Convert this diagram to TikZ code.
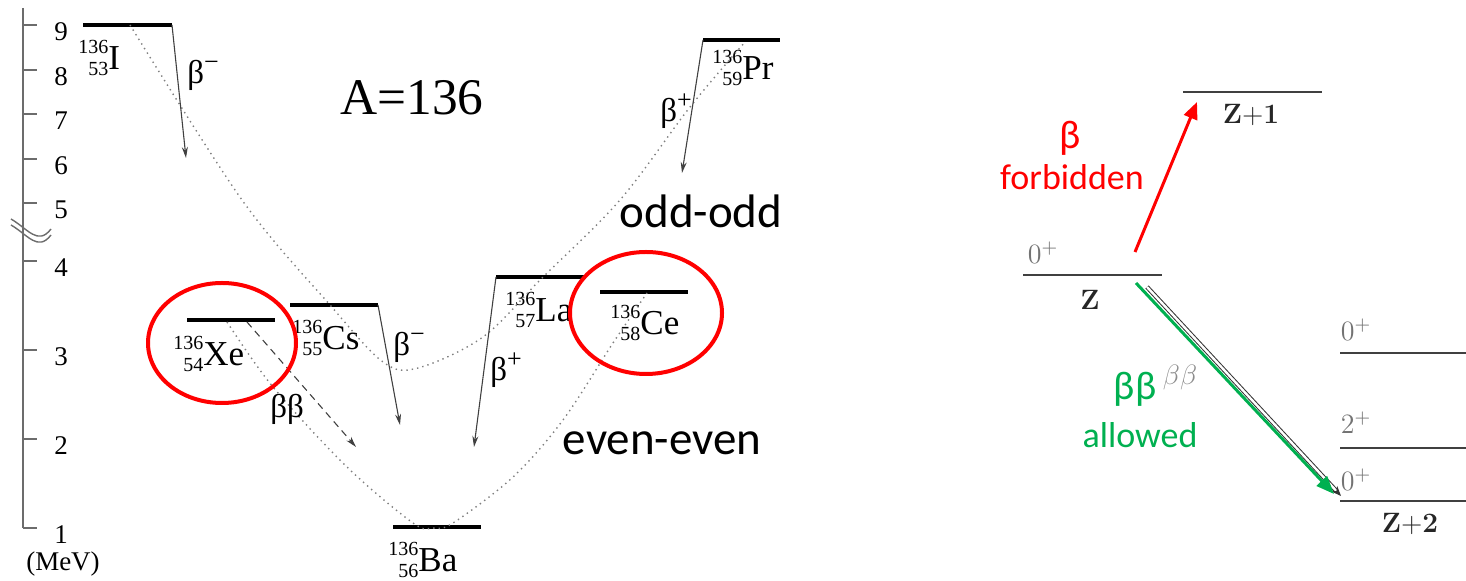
\documentclass[tikz,border=0pt]{standalone}
\usepackage{fix-cm}
\usepackage[no-math]{fontspec}
\setmainfont{Liberation Serif}
\newfontfamily\calibri{Carlito}
\usetikzlibrary{arrows.meta}
\definecolor{ringred}{RGB}{255,0,0}
\definecolor{okgreen}{RGB}{0,176,80}
\newcommand{\nuc}[3]{\raisebox{-3pt}{\fontsize{10}{11}\selectfont\begin{tabular}[b]{@{}r@{}}#1\\#2\end{tabular}}#3}
\newcommand{\chg}[1]{\raisebox{0.42em}{\fontsize{13}{13}\selectfont#1}}
\tikzset{
  lvlbar/.style={line width=2.3pt},
  decay/.style={black!75,line width=0.55pt,-{Stealth[length=5.5pt,width=3pt]}},
  parab/.style={gray,line width=0.7pt,dotted},
  ring/.style={ringred,line width=2pt},
  axisline/.style={gray!85!black,line width=1pt},
  nuclabel/.style={anchor=base west,inner sep=0pt,font=\fontsize{17.5}{20}\selectfont},
  betalabel/.style={anchor=base west,inner sep=0pt,font=\fontsize{16.5}{18}\selectfont},
  sanslabel/.style={anchor=base,inner sep=0pt,font=\calibri\fontsize{23.5}{26}\selectfont},
  zlevel/.style={black!75,line width=0.9pt},
  zlabel/.style={inner sep=0pt,black!85,font=\fontsize{14}{16}\selectfont},
  spin/.style={inner sep=0pt,black!55,font=\fontsize{14}{16}\selectfont}
}
\begin{document}
\begin{tikzpicture}[x=0.5pt,y=-0.5pt]
  \useasboundingbox (0,0) rectangle (1466,581);
  \draw[axisline] (23,8) -- (23,528);
  \foreach \v/\y in {9/25,8/70,7/114,6/159,5/203,4/261,3/350,2/439,1/528} {
    \draw[axisline] (23,\y) -- (37,\y);
    \node[inner sep=0pt,font=\fontsize{13.5}{15}\selectfont] (tick\v) at (61,\y+7) {\v};
  }
  \foreach \d in {0,6}
    \draw[axisline,line width=0.7pt] (11,219+\d) .. controls (28,229+\d) and (38,246+\d) .. (51,229+\d);
  \node[inner sep=0pt,font=\fontsize{13.5}{15}\selectfont] (unit) at (63,564) {(MeV)};

  \foreach \n/\xa/\xb/\y in {I/83/172/25,Pr/703/780/40,La/496/585/277,Ce/600/688/292,
                             Cs/290/378/305,Xe/187/275/320,Ba/393/481/527} {
    \coordinate (\n-l) at (\xa,\y);
    \coordinate (\n-r) at (\xb,\y);
    \draw[lvlbar] (\n-l) -- (\n-r);
  }
  \node[nuclabel] (I-lab)  at (78,70)   {\nuc{136}{53}{I}};
  \node[nuclabel] (Pr-lab) at (712,80)  {\nuc{136}{59}{Pr}};
  \node[nuclabel] (La-lab) at (505,322) {\nuc{136}{57}{La}};
  \node[nuclabel] (Ce-lab) at (610,335) {\nuc{136}{58}{Ce}};
  \node[nuclabel] (Cs-lab) at (292,350) {\nuc{136}{55}{Cs}};
  \node[nuclabel] (Xe-lab) at (173,366) {\nuc{136}{54}{Xe}};
  \node[nuclabel] (Ba-lab) at (388,572) {\nuc{136}{56}{Ba}};

  \draw[parab] plot[smooth,tension=0.55] coordinates {(130,25) (242,200) (330,305) (383,362)
     (418,368) (483,337) (540,280) (620,200) (690,107) (745,42)};
  \draw[parab] plot[smooth,tension=0.55] coordinates {(227,322) (273,387) (347,467) (413,523)
     (433,528) (453,523) (513,477) (563,420) (613,343) (647,293)};

  \coordinate (I-to) at (186,158);
  \coordinate (Cs-to) at (400,425);
  \coordinate (La-to) at (474,447);
  \coordinate (Pr-to) at (682,173);
  \coordinate (Xe-from) at (247,322);
  \coordinate (Xe-to) at (356,447);
  \draw[decay] (I-r) -- (I-to);
  \draw[decay] (Cs-r) -- (Cs-to);
  \draw[decay] (La-l) -- (La-to);
  \draw[decay] (Pr-l) -- (Pr-to);
  \draw[decay,dash pattern=on 3.5pt off 2.5pt] (Xe-from) -- (Xe-to);
  \node[betalabel] (b1) at (187,84)  {β\chg{−}};
  \node[betalabel] (b2) at (393,356) {β\chg{−}};
  \node[betalabel] (b3) at (490,381) {β\chg{+}};
  \node[betalabel] (b4) at (660,122) {β\chg{+}};
  \node[betalabel] (b5) at (270,418) {ββ};

  \node[inner sep=0pt,font=\fontsize{25.7}{28}\selectfont] (mass) at (412,98) {A=136};
  \node[sanslabel] (oddodd) at (701,228) {odd-odd};
  \node[sanslabel] (eveneven) at (662,455) {even-even};
  \draw[ring] (222,343) ellipse [x radius=74, y radius=60];
  \draw[ring] (646,313) ellipse [x radius=76, y radius=61];

  \coordinate (Z-l) at (1023,275);   \coordinate (Z-r) at (1162,275);
  \coordinate (Z1-l) at (1183,92);   \coordinate (Z1-r) at (1322,92);
  \foreach \n/\y in {ex0/353,ex2/448,gs/501} {
    \coordinate (\n-l) at (1340,\y);
    \coordinate (\n-r) at (1466,\y);
    \draw[zlevel] (\n-l) -- (\n-r);
  }
  \draw[zlevel] (Z-l) -- (Z-r);
  \draw[zlevel] (Z1-l) -- (Z1-r);
  \node[spin] (Zspin) at (1043,253) {$0^+$};
  \node[zlabel] (Zlab) at (1090,300) {$\mathbf{Z}$};
  \node[zlabel] (Z1lab) at (1251,115) {$\mathbf{Z{+}1}$};
  \node[zlabel] (Z2lab) at (1410,524) {$\mathbf{Z{+}2}$};
  \node[spin] (s0b) at (1356,330) {$0^+$};
  \node[spin] (s2) at (1356,423) {$2^+$};
  \node[spin] (s0a) at (1356,480) {$0^+$};

  \coordinate (red-from) at (1135,252);  \coordinate (red-to) at (1197,102);
  \coordinate (bb-from) at (1147,287);   \coordinate (bb-to) at (1341,496);
  \coordinate (gr-from) at (1136,283);   \coordinate (gr-to) at (1334,494);
  \draw[ringred,line width=1.5pt,-{Triangle[length=8.5pt,width=7pt]}] (red-from) -- (red-to);
  \draw[black!80,line width=0.5pt,double=white,double distance=1.2pt,-{Stealth[length=5pt,width=4pt]}] (bb-from) -- (bb-to);
  \draw[okgreen,line width=1.5pt,-{Triangle[length=9pt,width=7pt]}] (gr-from) -- (gr-to);
  \node[inner sep=0pt,ringred,font=\calibri\fontsize{20}{22}\selectfont] (beta) at (1070,138) {β};
  \node[anchor=base,inner sep=0pt,ringred,font=\calibri\fontsize{18}{20}\selectfont] (forb) at (1072,190) {forbidden};
  \node[inner sep=0pt,okgreen,font=\calibri\fontsize{20}{22}\selectfont] (bbeta) at (1135,389) {ββ};
  \node[inner sep=0pt,black!45,font=\fontsize{14}{16}\selectfont] (bbsmall) at (1180,378) {$\beta\beta$};
  \node[anchor=base,inner sep=0pt,okgreen,font=\calibri\fontsize{18}{20}\selectfont] (allow) at (1140,448) {allowed};
\end{tikzpicture}
\end{document}
